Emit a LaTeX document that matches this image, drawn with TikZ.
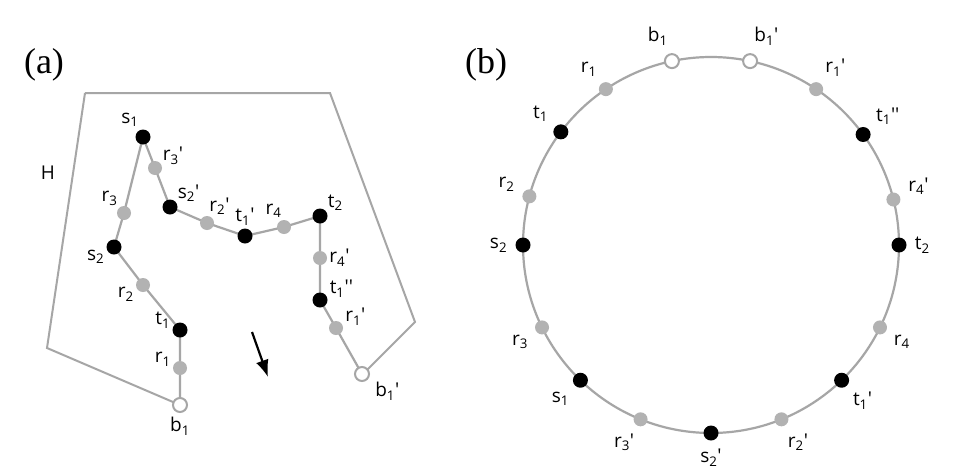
\documentclass[tikz,border=0pt]{standalone}
\usepackage{fontspec}
\usetikzlibrary{arrows.meta,calc}
\setmainfont{Open Sans}
\newfontfamily\serifx{Liberation Serif}
\newcommand{\pr}{\textquotesingle}
\newcommand{\lb}[2]{#1\textsubscript{#2}}
\tikzset{
  edge/.style={draw=gray!70, line width=2.2pt},
  bdot/.style={circle, fill=black, inner sep=0pt, minimum size=15pt},
  gdot/.style={circle, fill=gray!60, inner sep=0pt, minimum size=14pt},
  wdot/.style={circle, draw=gray!70, fill=white, line width=2pt, inner sep=0pt, minimum size=14pt},
  lab/.style={font=\fontsize{19pt}{21pt}\selectfont, inner sep=1pt},
  every label/.style={lab},
}
\begin{document}
\begin{tikzpicture}[x=1pt,y=-1pt]
\useasboundingbox (0,0) rectangle (957,474);
\fill[white] (0,0) rectangle (957,474);
% panel (a)
\node[font=\serifx\fontsize{36pt}{38pt}\selectfont] (la) at (44,65) {(a)};
\node[lab] (H) at (48,173) {H};
\draw[edge, line width=2pt] (85,93) -- (330,93) -- (415,322) -- (362,375);
\draw[edge, line width=2pt] (85,93) -- (47,348) -- (180,405);
\path
 (143,137) coordinate (a1) (155,168) coordinate (a2) (170,207) coordinate (a3)
 (207,223) coordinate (a4) (245,236) coordinate (a5) (284,227) coordinate (a6)
 (320,216) coordinate (a7) (320,258) coordinate (a8) (320,300) coordinate (a9)
 (336,328) coordinate (a10) (362,374) coordinate (a11)
 (124,213) coordinate (c1) (114,247) coordinate (c2) (143,285) coordinate (c3)
 (180,330) coordinate (c4) (180,368) coordinate (c5) (180,405) coordinate (c6);
\draw[edge] (a1)--(a2)--(a3)--(a4)--(a5)--(a6)--(a7)--(a8)--(a9)--(a10)--(a11);
\draw[edge] (a1)--(c1)--(c2)--(c3)--(c4)--(c5)--(c6);
\node[bdot,label={[label distance=2pt]110:\lb{s}{1}}] (s1) at (a1) {};
\node[gdot,label={[label distance=0pt]20:\lb{r}{3}\pr}] (r3p) at (a2) {};
\node[bdot,label={[label distance=0pt]30:\lb{s}{2}\pr}] (s2p) at (a3) {};
\node[gdot,label={[label distance=0pt]80:\lb{r}{2}\pr}] (r2p) at (a4) {};
\node[bdot,label={[label distance=2pt]90:\lb{t}{1}\pr}] (t1p) at (a5) {};
\node[gdot,label={[label distance=1pt]100:\lb{r}{4}}] (r4) at (a6) {};
\node[bdot,label={[label distance=0pt]30:\lb{t}{2}}] (t2) at (a7) {};
\node[gdot,label={[label distance=1pt]0:\lb{r}{4}\pr}] (r4p) at (a8) {};
\node[bdot,label={[label distance=1pt]10:\lb{t}{1}\pr\pr}] (t1pp) at (a9) {};
\node[gdot,label={[label distance=1pt]10:\lb{r}{1}\pr}] (r1p) at (a10) {};
\node[wdot,label={[label distance=6pt]-30:\lb{b}{1}\pr}] (b1p) at (a11) {};
\node[gdot,label={[label distance=1pt]130:\lb{r}{3}}] (r3) at (c1) {};
\node[bdot,label={[label distance=1pt]190:\lb{s}{2}}] (s2) at (c2) {};
\node[gdot,label={[label distance=1pt]190:\lb{r}{2}}] (r2) at (c3) {};
\node[bdot,label={[label distance=1pt]175:\lb{t}{1}}] (t1) at (c4) {};
\node[gdot,label={[label distance=1pt]175:\lb{r}{1}}] (r1) at (c5) {};
\node[wdot,label={[label distance=3pt]-90:\lb{b}{1}}] (b1) at (c6) {};
\coordinate (ar1) at (252,332); \coordinate (ar2) at (268,377);
\draw[line width=2.2pt,-{Latex[length=17pt,width=13pt]}] (ar1) -- (ar2);
% panel (b)
\node[font=\serifx\fontsize{36pt}{38pt}\selectfont] (lbb) at (486,65) {(b)};
\coordinate (O) at (711,245);
\draw[edge] (O) circle (188);
\foreach \ang/\sty/\txt/\nm in {
 102/wdot/\lb{b}{1}/p1, 124/gdot/\lb{r}{1}/p2, 143/bdot/\lb{t}{1}/p3,
 165/gdot/\lb{r}{2}/p4, 180/bdot/\lb{s}{2}/p5, 206/gdot/\lb{r}{3}/p6,
 226/bdot/\lb{s}{1}/p7, 248/gdot/\lb{r}{3}\pr/p8, 270/bdot/\lb{s}{2}\pr/p9,
 292/gdot/\lb{r}{2}\pr/p10, 314/bdot/\lb{t}{1}\pr/p11, 334/gdot/\lb{r}{4}/p12,
 0/bdot/\lb{t}{2}/p13, 14/gdot/\lb{r}{4}\pr/p14, 36/bdot/\lb{t}{1}\pr\pr/p15,
 56/gdot/\lb{r}{1}\pr/p16, 78/wdot/\lb{b}{1}\pr/p17} {
  \node[\sty,label={[label distance=7pt]\ang:\txt}] (\nm) at ($(O)+(-\ang:188)$) {};
}
\end{tikzpicture}
\end{document}
